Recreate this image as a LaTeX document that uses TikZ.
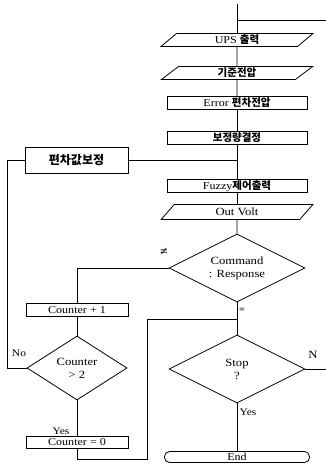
\documentclass[tikz,border=0pt]{standalone}
\usepackage{fontspec}
\setmainfont{Liberation Serif}[FakeStretch=1.15]
\newfontfamily\kr{Noto Sans CJK KR}
\usetikzlibrary{shapes.geometric}
\tikzset{
  base/.style={draw, line width=0.8pt, inner sep=0pt, font=\fontsize{10.5}{11}\selectfont},
  proc/.style={base, rectangle, minimum width=140pt, minimum height=13pt},
  io/.style={base, trapezium, trapezium left angle=60, trapezium right angle=120,
     trapezium stretches=true, minimum width=152pt, minimum height=13pt},
  small/.style={base, rectangle, minimum width=102pt, minimum height=13pt, font=\fontsize{10.5}{11}\selectfont},
  dec/.style={base, diamond, aspect=2, align=center, font=\fontsize{11}{13}\selectfont},
  lab/.style={inner sep=0pt, font=\fontsize{10}{11}\selectfont},
  line/.style={line width=0.8pt}
}
\begin{document}
\begin{tikzpicture}[x=1pt,y=-1pt]
\useasboundingbox[fill=white] (0,0) rectangle (326,466);
% main column
\coordinate (top) at (237,4);
\coordinate (rj) at (237,20);
\coordinate (re) at (326,20);
\node[io] (ups) at (237,40) {UPS {\kr\bfseries 출력}};
\node[io] (kijun) at (237,73) {{\kr\bfseries 기준전압}};
\node[proc] (err) at (237,103) {Error {\kr\bfseries 편차전압}};
\node[proc] (bojeong) at (237,138) {{\kr\bfseries 보정량결정}};
\node[proc] (fuzzy) at (237,186) {Fuzzy{\kr\bfseries 제어출력}};
\node[io, minimum height=15pt, font=\fontsize{11}{12}\selectfont] (outv) at (237,212) {Out Volt};
\node[dec, minimum width=136pt, minimum height=68pt] (cmd) at (237,268) {Command\\: Response};
\node[dec, minimum width=136pt, minimum height=68pt] (stop) at (237,369) {Stop\\?};
\node[base, rectangle, rounded corners=5pt, minimum width=145pt, minimum height=11pt] (end) at (237,457) {End};
\coordinate (ne) at (326,369);
% left column
\node[base, rectangle, minimum width=103pt, minimum height=26pt, font=\fontsize{12}{13}\selectfont] (pyeon) at (76.5,160) {{\kr\bfseries 편차값보정}};
\node[small] (cnt1) at (77,310) {Counter + 1};
\node[dec, minimum width=100pt, minimum height=64pt] (cntd) at (77,368) {Counter\\> 2};
\node[small, minimum height=12pt] (cnt0) at (77,442.5) {Counter = 0};
\coordinate (lb) at (147,459);
\coordinate (lt) at (147,319);
% connectors
\draw[line] (top) -- (ups) ;
\draw[line] (re) -- (rj);
\draw[line] (ups) -- (kijun);
\draw[line] (kijun) -- (err);
\draw[line] (err) -- (bojeong);
\draw[line] (bojeong) -- (fuzzy);
\draw[line] (fuzzy) -- (outv);
\draw[line] (outv) -- (cmd);
\draw[line] (cmd) -- (stop);
\draw[line] (stop) -- (end);
\draw[line] (stop.east) -- (ne);
\draw[line] (pyeon.east) -- (pyeon.east -| top);
\draw[line] (cmd.west) -| (cnt1.north);
\draw[line] (cnt1) -- (cntd);
\draw[line] (cntd) -- (cnt0);
\draw[line] (cntd.west) -- ++(-19,0) |- (pyeon.west);
\draw[line] (cnt0.south) |- (lb) -- (lt) -- (lt -| stop.north);
% labels
\node[lab, font=\fontsize{12}{12}\bfseries] (ne1) at (164,252) {≠};
\node[lab, font=\fontsize{9}{10}\bfseries] (eq1) at (242,310) {=};
\node[lab, font=\fontsize{11}{12}\selectfont] (nlab) at (313,355) {N};
\node[lab] (ylab) at (248,412) {Yes};
\node[lab] (nolab) at (19,353) {No};
\node[lab] (ylab2) at (61,431) {Yes};
\end{tikzpicture}
\end{document}
